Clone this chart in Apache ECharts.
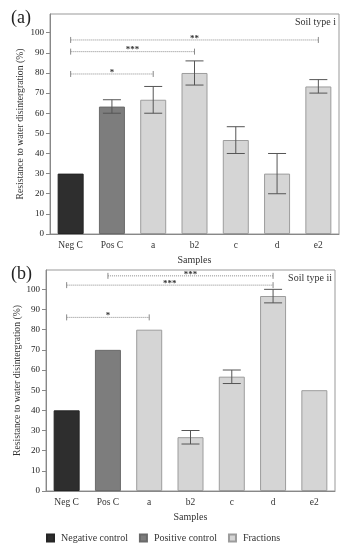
<!DOCTYPE html>
<html>
<head>
<meta charset="utf-8">
<script src="https://cdn.jsdelivr.net/npm/echarts@6/dist/echarts.min.js"></script>
<style>html,body{margin:0;padding:0;background:#fff;}#c{width:349px;height:550px;}</style>
</head>
<body>
<div id="c"></div>
<script>
// ---------- data ----------
const categories = ['Neg C', 'Pos C', 'a', 'b2', 'c', 'd', 'e2'];
const yTicks = [0, 10, 20, 30, 40, 50, 60, 70, 80, 90, 100];
// Panel (a) – Soil type i
const valuesA = [30, 63.3, 66.7, 80, 46.7, 30, 73.3];
const errLowA  = [null, 60, 60, 74, 40, 20, 70];
const errHighA = [null, 66.7, 73.3, 86, 53.3, 40, 76.7];
// significance brackets: [fromCategory, toCategory, yValue, label]
const sigA = [[0, 6, 96.4, '**'], [0, 3, 90.6, '***'], [0, 2, 79.5, '*']];
// Panel (b) – Soil type ii
const valuesB = [40, 70, 80, 26.7, 56.7, 96.7, 50];
const errLowB  = [null, null, null, 23.3, 53.3, 93.3, null];
const errHighB = [null, null, null, 30, 60, 100, null];
const sigB = [[1, 5, 106.7, '***'], [0, 5, 102.1, '***'], [0, 2, 86.1, '*']];
// group of each category: 0 negative control, 1 positive control, 2 fractions
const groupOf = [0, 1, 2, 2, 2, 2, 2];
const groupNames = ['Negative control', 'Positive control', 'Fractions'];

// ---------- styling ----------
const SERIF = '"Liberation Serif", "DejaVu Serif", serif';
const fills = ['#2e2e2e', '#7d7d7d', '#d5d5d5'];
const borders = ['#252525', '#6a6a6a', '#9c9c9c'];

function groupData(vals, g) {
  return vals.map((v, i) => groupOf[i] === g ? v : '-');
}
function errData(lo, hi) {
  const out = [];
  lo.forEach((l, i) => { if (l != null) out.push([i, l, hi[i]]); });
  return out;
}

const errRender = function (params, api) {
  const x = api.value(0);
  const lo = api.coord([x, api.value(1)]);
  const hi = api.coord([x, api.value(2)]);
  const hw = 9;
  const st = { stroke: '#555', lineWidth: 1 };
  return {
    type: 'group',
    children: [
      { type: 'line', shape: { x1: lo[0], y1: lo[1], x2: hi[0], y2: hi[1] }, style: st },
      { type: 'line', shape: { x1: lo[0] - hw, y1: lo[1], x2: lo[0] + hw, y2: lo[1] }, style: st },
      { type: 'line', shape: { x1: hi[0] - hw, y1: hi[1], x2: hi[0] + hw, y2: hi[1] }, style: st }
    ]
  };
};

const sigRender = function (params, api) {
  const y = api.value(2);
  const p1 = api.coord([api.value(0), y]);
  const p2 = api.coord([api.value(1), y]);
  const st = { stroke: '#8a8a8a', lineWidth: 1, lineDash: [1, 1] };
  const cap = { stroke: '#8a8a8a', lineWidth: 1 };
  return {
    type: 'group',
    children: [
      { type: 'line', shape: { x1: p1[0], y1: p1[1], x2: p2[0], y2: p2[1] }, style: st },
      { type: 'line', shape: { x1: p1[0], y1: p1[1] - 3, x2: p1[0], y2: p1[1] + 3 }, style: cap },
      { type: 'line', shape: { x1: p2[0], y1: p2[1] - 3, x2: p2[0], y2: p2[1] + 3 }, style: cap },
      { type: 'text', style: { text: api.value(3), x: (p1[0] + p2[0]) / 2, y: p1[1] + 3,
        textAlign: 'center', textVerticalAlign: 'bottom', fill: '#333',
        font: 'bold 9px ' + SERIF } }
    ]
  };
};

function makeAxes(idx, max, gap) {
  return {
    x: {
      type: 'category', gridIndex: idx, data: categories, boundaryGap: true,
      name: 'Samples', nameLocation: 'middle', nameGap: 21, nameMoveOverlap: false,
      nameTextStyle: { fontFamily: SERIF, fontSize: 10, color: '#333' },
      axisLine: { lineStyle: { color: '#888' } },
      axisTick: { show: false },
      axisLabel: { fontFamily: SERIF, fontSize: 9.5, color: '#333', margin: 6 }
    },
    y: {
      type: 'value', gridIndex: idx, min: 0, max: max, interval: 10,
      name: 'Resistance to water disintergration (%)', nameLocation: 'middle', nameGap: gap,
      nameMoveOverlap: false,
      nameTextStyle: { fontFamily: SERIF, fontSize: 9.7, color: '#333' },
      splitLine: { show: false },
      axisLine: { show: true, lineStyle: { color: '#888' } },
      axisTick: { show: true, length: 4, lineStyle: { color: '#888' }, customValues: yTicks },
      axisLabel: { fontFamily: SERIF, fontSize: 9, color: '#222', margin: 6, customValues: yTicks }
    }
  };
}

const axA = makeAxes(0, 109.3, 25);
const axB = makeAxes(1, 109.6, 24);

const series = [];
[[valuesA, 0], [valuesB, 1]].forEach(([vals, gi]) => {
  for (let g = 0; g < 3; g++) {
    series.push({
      type: 'bar', name: groupNames[g], xAxisIndex: gi, yAxisIndex: gi,
      data: groupData(vals, g), barWidth: 26, barGap: '-100%',
      itemStyle: { color: fills[g], borderColor: borders[g], borderWidth: 1 }
    });
  }
});
series.push({ type: 'custom', xAxisIndex: 0, yAxisIndex: 0, renderItem: errRender,
  data: errData(errLowA, errHighA), clip: false, z: 5 });
series.push({ type: 'custom', xAxisIndex: 1, yAxisIndex: 1, renderItem: errRender,
  data: errData(errLowB, errHighB), clip: false, z: 5 });
series.push({ type: 'custom', xAxisIndex: 0, yAxisIndex: 0, renderItem: sigRender,
  data: sigA, clip: false, z: 6 });
series.push({ type: 'custom', xAxisIndex: 1, yAxisIndex: 1, renderItem: sigRender,
  data: sigB, clip: false, z: 6 });

const chart = echarts.init(document.getElementById('c'), null, { renderer: 'canvas' });
chart.setOption({
  animation: false,
  backgroundColor: '#fff',
  grid: [
    { left: 50, top: 14, width: 289, height: 220, show: true, borderColor: '#999', borderWidth: 1 },
    { left: 46, top: 270, width: 289, height: 221, show: true, borderColor: '#999', borderWidth: 1 }
  ],
  xAxis: [axA.x, axB.x],
  yAxis: [axA.y, axB.y],
  legend: {
    data: groupNames, left: 46, top: 533, padding: 0, itemWidth: 7, itemHeight: 7, itemGap: 11,
    icon: 'rect', selectedMode: false,
    textStyle: { fontFamily: SERIF, fontSize: 10, color: '#333', padding: [0, 0, 0, 2] }
  },
  graphic: [
    { type: 'text', left: 11, top: 9, style: { text: '(a)', font: '18px ' + SERIF, fill: '#222' } },
    { type: 'text', left: 11, top: 265, style: { text: '(b)', font: '18px ' + SERIF, fill: '#222' } },
    { type: 'text', right: 13, top: 17, style: { text: 'Soil type i', font: '10px ' + SERIF, fill: '#333' } },
    { type: 'text', right: 17, top: 273, style: { text: 'Soil type ii', font: '10px ' + SERIF, fill: '#333' } }
  ],
  series: series
});
</script>
</body>
</html>
